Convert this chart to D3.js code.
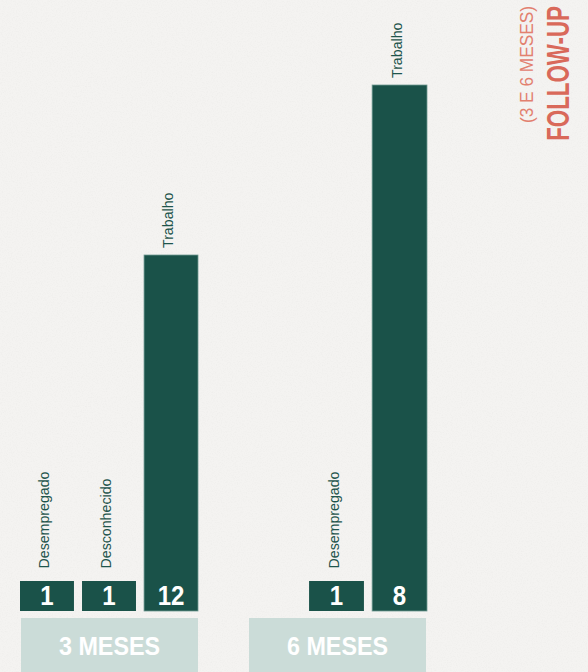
<!DOCTYPE html>
<html>
<head>
<meta charset="utf-8">
<script src="https://cdn.jsdelivr.net/npm/d3@7"></script>
<style>
  html, body { margin: 0; padding: 0; background: #f4f3f1; }
  svg { display: block; }
</style>
</head>
<body>
<div id="chart"></div>
<script>
// Outcome counts at each follow-up point
const periods = ["3 MESES", "6 MESES"];
const outcomes3m = ["Desempregado", "Desconhecido", "Trabalho"];
const counts3m = [1, 1, 12];
const outcomes6m = ["Desempregado", "Trabalho"];
const counts6m = [1, 8];
const titleMain = "FOLLOW-UP";
const titleSub = "(3 E 6 MESES)";

const W = 588, H = 672;
const baseY = 611;        // bottom of the bars
const valueBoxH = 30;     // dark tile that carries the count
const slots = 3;

const dark = "#1a5249";
const pale = "#cbdcd8";
const coral = "#d9695a";
const font = "'Liberation Sans', Arial, Helvetica, sans-serif";

const svg = d3.select("#chart").append("svg")
  .attr("width", W).attr("height", H);

// faint paper grain
const defs = svg.append("defs");
const f = defs.append("filter").attr("id", "grain")
  .attr("x", 0).attr("y", 0).attr("width", "100%").attr("height", "100%");
f.append("feTurbulence").attr("type", "fractalNoise")
  .attr("baseFrequency", 0.8).attr("numOctaves", 3).attr("seed", 3).attr("result", "n");
f.append("feColorMatrix").attr("in", "n").attr("type", "matrix")
  .attr("values", "0 0 0 0 0.5  0 0 0 0 0.5  0 0 0 0 0.48  0 0 0 -2.2 1.25");
svg.append("rect").attr("width", W).attr("height", H).attr("fill", "#f4f3f1");
svg.append("rect").attr("width", W).attr("height", H).attr("filter", "url(#grain)").attr("opacity", 0.08);

const panels = [
  { period: periods[0], cats: outcomes3m, vals: counts3m, xr: [20, 198], box: [21, 198], top: 255 },
  { period: periods[1], cats: outcomes6m, vals: counts6m, xr: [246, 427], box: [249, 426], top: 85 }
];

panels.forEach(p => {
  // slot positions; smaller groups sit in the right-hand slots
  const x = d3.scaleBand().domain(d3.range(slots)).range(p.xr).paddingInner(0.13).paddingOuter(0);
  const offset = slots - p.cats.length;
  // height added above the count tile
  const y = d3.scaleLinear().domain([1, d3.max(p.vals)]).range([0, baseY - valueBoxH - p.top]);

  const data = p.cats.map((c, i) => ({ cat: c, val: p.vals[i], slot: i + offset }));
  const g = svg.append("g");
  const cx = d => x(d.slot) + x.bandwidth() / 2;
  const topY = d => baseY - valueBoxH - y(d.val);

  const bars = g.selectAll("g.bar").data(data).join("g").attr("class", "bar");

  bars.append("rect")
    .attr("x", d => x(d.slot))
    .attr("width", x.bandwidth())
    .attr("y", topY)
    .attr("height", d => valueBoxH + y(d.val))
    .attr("fill", dark)
    .attr("stroke", d => y(d.val) > 0 ? "#6f9a92" : "none")
    .attr("stroke-width", 0.8);

  bars.append("text")
    .attr("transform", d => `translate(${cx(d)},${baseY - 6}) scale(0.86,1)`)
    .attr("text-anchor", "middle")
    .attr("fill", "#ffffff")
    .style("font-family", font)
    .style("font-weight", "bold")
    .style("font-size", "28px")
    .text(d => d.val);

  bars.append("text")
    .attr("transform", d => `translate(${cx(d) + 2.3},${topY(d) - (y(d.val) > 0 ? 7 : 12.5)}) rotate(-90)`)
    .attr("fill", "#1f554c")
    .style("font-family", font)
    .style("font-size", "14.2px")
    .text(d => d.cat);

  // period tile
  g.append("rect")
    .attr("x", p.box[0]).attr("y", 618)
    .attr("width", p.box[1] - p.box[0]).attr("height", 70)
    .attr("fill", pale);
  g.append("text")
    .attr("transform", `translate(${(p.box[0] + p.box[1]) / 2},655) scale(0.88,1)`)
    .attr("text-anchor", "middle")
    .attr("fill", "#ffffff")
    .style("font-family", font)
    .style("font-weight", "bold")
    .style("font-size", "26.5px")
    .text(p.period);
});

// vertical title, narrowed along its reading direction
svg.append("text")
  .attr("transform", "translate(569,6) rotate(-90) scale(0.71,1)")
  .attr("text-anchor", "end")
  .attr("fill", coral)
  .style("font-family", font)
  .style("font-weight", "bold")
  .style("font-size", "31.5px")
  .text(titleMain);
svg.append("text")
  .attr("transform", "translate(532.5,6) rotate(-90) scale(0.96,1)")
  .attr("text-anchor", "end")
  .attr("fill", "#e2806f")
  .style("font-family", font)
  .style("font-size", "18px")
  .text(titleSub);
</script>
</body>
</html>
